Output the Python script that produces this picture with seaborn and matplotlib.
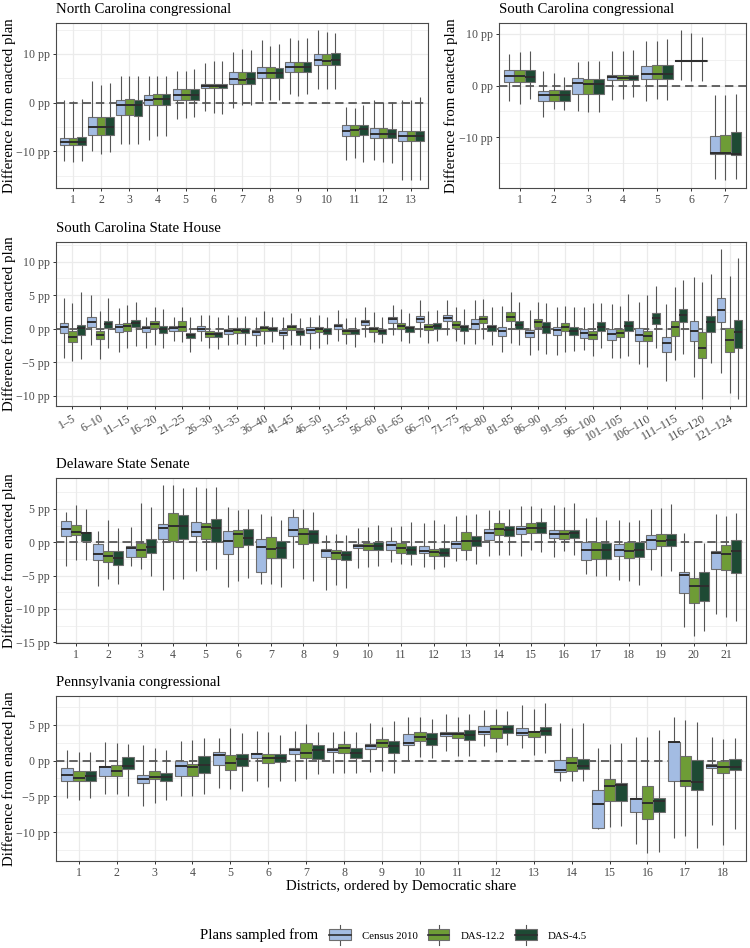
import numpy as np
import pandas as pd
import matplotlib
matplotlib.use("Agg")
import matplotlib.pyplot as plt
import seaborn as sns
from matplotlib.ticker import MultipleLocator, FuncFormatter
from matplotlib.legend_handler import HandlerBase
from matplotlib.patches import Rectangle
from matplotlib.lines import Line2D
import matplotlib.transforms as mtransforms

# ---------------- data: (whisker low, Q1, median, Q3, whisker high) ----------------
PLANS = ["Census 2010", "DAS-12.2", "DAS-4.5"]
COLORS = ["#A3BCE3", "#6E9C36", "#1E4A34"]

NC_DISTRICTS = [str(i) for i in range(1, 14)]
NC_CENSUS = [(-11.9, -8.8, -8.1, -7.3, 0.5), (-10.0, -6.6, -5.1, -2.95, 4.4), (-8.6, -2.6, -0.6, 0.6, 5.5),
             (-7.7, -0.5, 0.6, 1.6, 5.5), (-3.3, 0.6, 1.6, 2.8, 6.4), (-1.8, 3.0, 3.35, 3.9, 8.2),
             (-1.1, 3.9, 4.9, 6.2, 10.3), (0.3, 5.1, 6.1, 7.3, 12.8), (1.8, 6.2, 7.3, 8.4, 13.3),
             (2.7, 7.8, 8.8, 10.0, 14.8), (-11.8, -6.8, -5.75, -4.7, -0.9), (-11.8, -7.3, -6.4, -5.3, 0.6),
             (-16.0, -7.9, -6.8, -5.9, 0.6)]
NC_DAS12 = [(-12.1, -8.8, -8.1, -7.3, 0.4), (-10.5, -6.7, -5.1, -2.95, 3.7), (-8.5, -2.5, -0.5, 0.75, 5.5),
            (-6.9, -0.4, 0.75, 1.8, 5.4), (-3.2, 0.6, 1.6, 2.8, 6.4), (-2.1, 3.0, 3.35, 3.9, 8.5),
            (-0.6, 3.9, 4.7, 6.2, 10.9), (0.6, 5.1, 6.0, 7.3, 11.7), (1.3, 6.2, 7.3, 8.4, 12.8),
            (2.7, 7.8, 8.6, 10.0, 14.5), (-11.4, -6.8, -5.7, -4.7, -1.1), (-12.3, -7.3, -6.4, -5.3, 0.1),
            (-15.8, -7.9, -6.8, -5.9, 0.5)]
NC_DAS45 = [(-12.0, -8.8, -8.1, -7.1, 0.7), (-10.2, -6.7, -5.1, -2.95, 4.0), (-8.5, -2.8, -0.5, 0.6, 5.5),
            (-6.8, -0.4, 0.75, 1.8, 5.4), (-3.0, 0.6, 1.6, 2.8, 6.9), (-2.3, 3.0, 3.35, 3.9, 8.6),
            (-0.4, 3.8, 4.9, 6.2, 10.7), (0.6, 5.0, 6.1, 7.2, 12.1), (1.8, 6.2, 7.3, 8.4, 13.3),
            (2.8, 7.8, 8.8, 10.1, 14.3), (-12.1, -6.6, -5.5, -4.6, -0.6), (-12.4, -7.3, -6.4, -5.4, 0.1),
            (-15.8, -7.9, -6.8, -5.9, 1.2)]

SC_DISTRICTS = [str(i) for i in range(1, 8)]
SC_CENSUS = [(-3.0, 0.7, 1.9, 2.9, 6.0), (-6.1, -3.0, -1.9, -1.1, 2.8), (-4.9, -1.6, 0.4, 1.5, 4.5),
             (-2.7, 1.0, 1.7, 2.1, 6.6), (-3.0, 1.3, 2.3, 3.7, 8.5), (1.0, 4.7, 4.8, 4.9, 10.6),
             (-18.1, -13.1, -12.95, -9.7, -1.9)]
SC_DAS12 = [(-3.5, 0.7, 1.8, 2.9, 6.4), (-4.6, -3.0, -1.9, -0.9, 2.4), (-5.1, -1.7, 0.3, 1.3, 4.7),
            (-2.6, 1.0, 1.5, 2.1, 6.7), (-2.6, 1.3, 2.3, 3.9, 8.5), (0.8, 4.7, 4.8, 4.9, 10.1),
            (-18.3, -13.1, -12.95, -9.6, -1.9)]
SC_DAS45 = [(-2.6, 0.7, 1.7, 2.9, 6.7), (-4.8, -3.0, -1.9, -0.9, 1.7), (-5.1, -1.6, 0.2, 1.3, 4.7),
            (-2.2, 1.0, 1.5, 2.1, 6.9), (-2.7, 1.3, 2.3, 3.9, 9.0), (0.8, 4.7, 4.8, 4.9, 9.3),
            (-18.1, -13.3, -13.1, -9.0, -1.7)]

SCSH_GROUPS = ["1–5", "6–10", "11–15", "16–20", "21–25", "26–30", "31–35", "36–40", "41–45",
               "46–50", "51–55", "56–60", "61–65", "66–70", "71–75", "76–80", "81–85", "86–90",
               "91–95", "96–100", "101–105", "106–110", "111–115", "116–120", "121–124"]
SCSH_CENSUS = [(-4.4, -0.64, 0.2, 0.8, 4.6), (-2.5, 0.2, 0.95, 1.8, 5.0), (-3.4, -0.5, 0.2, 0.7, 3.1),
               (-2.8, -0.5, 0.05, 0.35, 1.7), (-1.8, -0.3, 0.1, 0.4, 1.8), (-1.9, -0.4, 0.0, 0.35, 2.0),
               (-2.5, -0.8, -0.4, -0.05, 2.0), (-2.6, -0.9, -0.55, -0.2, 1.7), (-3.0, -0.95, -0.6, -0.2, 1.8),
               (-3.0, -0.65, -0.2, 0.2, 1.8), (-1.8, 0.0, 0.35, 0.7, 2.8), (-1.3, 0.5, 1.0, 1.3, 3.3),
               (-0.95, 0.9, 1.45, 1.8, 3.5), (-1.2, 0.95, 1.45, 1.9, 4.2), (-0.95, 1.1, 1.6, 2.0, 4.3),
               (-2.3, -0.05, 0.7, 1.45, 4.3), (-3.5, -1.05, -0.4, 0.2, 3.4), (-3.9, -1.2, -0.65, -0.15, 2.8),
               (-3.9, -0.9, -0.2, 0.2, 3.2), (-3.2, -1.4, -0.65, -0.05, 3.2), (-4.4, -1.7, -0.8, -0.05, 3.7),
               (-5.25, -1.8, -0.95, 0.05, 4.0), (-7.8, -3.4, -2.2, -1.2, 3.7), (-7.2, -1.9, -0.4, 1.2, 7.7),
               (-6.6, 0.95, 2.8, 4.55, 11.8)]
SCSH_DAS12 = [(-4.75, -2.0, -1.3, -0.4, 3.8), (-4.5, -1.6, -0.9, -0.3, 2.6), (-2.9, -0.3, 0.4, 0.9, 3.5),
              (-2.4, 0.1, 0.7, 1.2, 3.3), (-2.0, -0.3, 0.2, 1.1, 3.3), (-2.8, -1.2, -0.8, -0.4, 2.0),
              (-2.3, -0.65, -0.2, 0.1, 1.8), (-2.3, -0.3, 0.1, 0.45, 2.7), (-2.4, -0.2, 0.2, 0.55, 2.4),
              (-2.8, -0.55, -0.1, 0.3, 2.1), (-2.3, -0.8, -0.4, -0.05, 1.6), (-2.0, -0.55, -0.1, 0.3, 2.5),
              (-1.9, -0.05, 0.45, 0.85, 3.0), (-2.2, -0.2, 0.2, 0.7, 2.6), (-1.9, 0.05, 0.6, 1.1, 3.3),
              (-1.5, 0.8, 1.45, 1.9, 4.4), (-2.2, 1.1, 1.8, 2.5, 5.4), (-3.2, 0.3, 0.95, 1.45, 4.0),
              (-3.4, -0.4, 0.2, 0.85, 3.4), (-4.1, -1.55, -0.9, -0.4, 3.9), (-4.4, -1.3, -0.7, -0.05, 3.4),
              (-5.7, -1.8, -1.05, -0.3, 5.0), (-4.65, -1.05, 0.2, 1.2, 6.2), (-10.4, -4.3, -2.8, -0.55, 7.0),
              (-9.5, -3.4, -1.7, 0.1, 7.8)]
SCSH_DAS45 = [(-4.5, -1.0, 0.1, 0.6, 5.4), (-2.8, 0.1, 0.7, 1.2, 4.6), (-2.6, 0.2, 0.8, 1.3, 4.0),
              (-2.8, -0.6, 0.0, 0.45, 2.9), (-3.4, -1.4, -1.0, -0.65, 1.7), (-3.0, -1.2, -0.8, -0.45, 1.7),
              (-2.5, -0.7, -0.3, 0.05, 1.9), (-2.0, -0.4, 0.0, 0.3, 1.8), (-2.5, -0.95, -0.55, -0.15, 1.6),
              (-2.3, -0.75, -0.3, 0.05, 1.8), (-2.7, -0.8, -0.4, -0.05, 1.7), (-2.2, -0.8, -0.4, -0.05, 1.8),
              (-2.1, -0.5, 0.1, 0.45, 2.3), (-1.9, 0.0, 0.45, 0.8, 2.8), (-2.3, -0.4, 0.2, 0.6, 2.9),
              (-2.4, -0.4, 0.2, 0.6, 3.2), (-2.5, -0.05, 0.55, 1.1, 4.0), (-3.8, -0.6, 0.2, 1.05, 3.8),
              (-3.3, -0.9, -0.3, 0.2, 3.3), (-2.9, -0.3, 0.3, 1.05, 3.8), (-4.1, -0.4, 0.35, 1.1, 5.1),
              (-2.8, 0.7, 1.55, 2.3, 6.4), (-3.8, 0.95, 2.1, 2.9, 7.3), (-5.1, -0.45, 0.95, 1.9, 8.1),
              (-10.4, -2.9, -0.55, 1.3, 10.6)]

DE_DISTRICTS = [str(i) for i in range(1, 22)]
DE_CENSUS = [(-3.6, 1.0, 2.0, 3.15, 4.5), (-6.5, -2.7, -1.75, -0.25, 1.65), (-3.6, -2.25, -0.85, -0.6, 2.3),
             (-7.2, 0.5, 2.15, 2.8, 8.5), (-4.25, 0.9, 1.55, 3.05, 8.3), (-6.75, -1.7, 0.25, 1.65, 5.3),
             (-6.25, -4.4, -0.75, 0.5, 4.3), (-3.85, 1.0, 1.9, 3.8, 5.0), (-7.2, -2.2, -1.35, -1.0, 1.15),
             (-3.85, -0.85, -0.5, -0.2, 2.15), (-3.0, -1.1, -0.35, 0.15, 2.3), (-3.7, -1.6, -1.35, -0.6, 2.9),
             (-2.85, -0.85, -0.25, 0.15, 4.0), (-2.1, 0.4, 1.4, 2.0, 4.75), (-2.0, 1.25, 2.05, 2.4, 5.4),
             (-2.25, 0.65, 1.3, 1.8, 5.5), (-4.75, -2.6, -1.2, 0.0, 3.65), (-5.6, -2.1, -1.1, -0.25, 3.3),
             (-4.1, -0.95, 0.4, 1.05, 4.9), (-12.7, -7.6, -4.85, -4.45, 1.4), (-10.75, -4.0, -1.6, -1.25, 4.25)]
DE_DAS12 = [(-2.7, 1.15, 1.5, 2.65, 5.5), (-5.5, -3.0, -2.1, -1.35, 3.3), (-4.0, -2.2, -1.1, -0.1, 5.8),
            (-5.5, 0.15, 2.5, 4.4, 8.5), (-4.1, 0.5, 2.25, 2.9, 8.1), (-5.85, -0.7, 1.25, 1.8, 4.75),
            (-6.25, -2.4, -1.0, 0.8, 3.9), (-5.45, -0.2, 1.25, 2.15, 4.9), (-6.35, -2.5, -1.6, -1.1, 1.25),
            (-3.7, -1.2, -0.6, -0.1, 2.3), (-3.2, -1.6, -0.85, -0.1, 2.5), (-4.0, -2.1, -1.5, -1.0, 3.4),
            (-2.7, -1.1, 0.15, 1.55, 4.15), (-1.85, 1.15, 2.0, 2.9, 4.75), (-1.1, 1.4, 2.15, 2.9, 5.4),
            (-1.35, 0.5, 1.3, 1.9, 5.3), (-5.0, -2.45, -1.1, 0.05, 3.8), (-5.85, -2.35, -1.25, 0.0, 3.0),
            (-5.0, -0.5, 0.15, 1.3, 5.15), (-14.0, -9.1, -6.6, -5.35, 0.0), (-11.25, -4.2, -1.75, -0.35, 4.0)]
DE_DAS45 = [(-2.6, 0.25, 1.4, 1.55, 4.9), (-6.2, -3.35, -2.35, -1.35, 2.15), (-5.0, -1.6, -0.7, 0.55, 5.3),
            (-5.5, 0.5, 2.5, 4.15, 8.1), (-4.0, 0.0, 2.15, 3.5, 8.2), (-5.35, -0.35, 0.65, 2.0, 5.0),
            (-6.75, -2.35, -0.85, 0.15, 3.4), (-5.85, -0.1, 1.3, 1.8, 4.5), (-6.85, -2.6, -1.85, -1.25, 1.15),
            (-3.5, -1.1, -0.5, 0.0, 2.65), (-3.35, -1.7, -1.1, -0.5, 3.0), (-3.75, -2.1, -1.6, -0.85, 2.75),
            (-3.2, -0.6, 0.15, 1.0, 4.3), (-1.85, 1.0, 1.8, 2.4, 4.9), (-1.5, 1.4, 2.15, 3.0, 5.15),
            (-1.85, 0.65, 1.4, 1.9, 5.9), (-5.1, -2.45, -1.1, -0.1, 3.3), (-6.35, -2.25, -1.2, 0.05, 3.4),
            (-4.25, -0.6, 0.4, 1.3, 5.65), (-13.35, -8.85, -6.6, -4.5, -0.1), (-11.75, -4.6, -1.25, 0.4, 4.4)]

PA_DISTRICTS = [str(i) for i in range(1, 19)]
PA_CENSUS = [(-5.15, -2.9, -2.0, -1.05, 1.5), (-4.7, -2.2, -0.9, -0.75, 2.65), (-6.3, -3.15, -2.6, -2.0, 2.2),
             (-4.9, -2.1, -0.75, 0.0, 2.75), (-3.85, -0.6, 0.8, 1.15, 3.1), (-2.8, 0.3, 0.9, 1.1, 4.1),
             (-2.8, 0.9, 1.5, 1.7, 4.1), (-1.75, 1.15, 1.5, 1.8, 4.0), (-1.65, 1.6, 2.0, 2.3, 5.2),
             (0.1, 2.2, 2.5, 3.65, 6.0), (1.4, 3.4, 3.7, 4.0, 6.45), (2.05, 3.7, 3.95, 4.8, 7.05),
             (1.7, 3.55, 3.8, 4.5, 7.75), (-2.8, -1.55, -1.3, 0.1, 5.2), (-9.55, -9.4, -6.05, -4.15, 1.7),
             (-11.6, -7.2, -5.35, -5.25, 3.35), (-10.8, -2.8, 2.55, 2.65, 6.1), (-8.95, -1.05, -0.75, -0.5, 3.35)]
PA_DAS12 = [(-5.55, -2.8, -2.45, -1.5, 1.15), (-4.6, -2.1, -1.4, -0.6, 2.4), (-5.85, -2.6, -2.3, -1.5, 1.7),
            (-5.0, -2.15, -0.95, -0.45, 2.85), (-4.0, -1.3, -0.3, 0.8, 4.6), (-3.7, -0.3, 0.3, 0.95, 3.95),
            (-2.55, 0.3, 1.1, 2.4, 5.05), (-1.75, 1.0, 1.7, 2.3, 4.1), (-1.4, 1.85, 2.5, 2.95, 4.7),
            (0.55, 2.75, 3.35, 4.0, 6.0), (0.7, 3.1, 3.7, 4.0, 6.1), (1.25, 3.1, 4.4, 4.95, 7.15),
            (0.8, 3.35, 3.95, 4.15, 7.25), (-2.85, -1.45, -0.35, 0.45, 4.6), (-9.3, -5.7, -3.6, -2.55, 2.3),
            (-12.95, -8.15, -5.9, -3.5, 3.35), (-10.55, -3.6, -2.8, 0.65, 5.65), (-11.7, -1.75, -0.95, 0.0, 2.95)]
PA_DAS45 = [(-5.15, -2.8, -2.1, -1.45, 1.25), (-4.9, -1.2, -0.7, 0.45, 2.3), (-5.55, -2.9, -2.3, -1.75, 1.5),
            (-4.7, -1.75, -0.6, 0.7, 3.1), (-4.2, -0.7, 0.25, 0.9, 3.9), (-2.9, -0.2, 0.4, 0.9, 3.55),
            (-1.85, 0.25, 1.5, 2.2, 4.0), (-1.75, 0.3, 1.1, 1.7, 4.0), (-1.75, 1.0, 2.0, 2.7, 5.5),
            (0.3, 2.2, 2.95, 3.9, 5.8), (0.7, 2.85, 3.55, 4.25, 6.45), (2.1, 3.8, 4.4, 4.95, 6.95),
            (1.0, 3.55, 4.1, 4.65, 7.95), (-2.8, -1.15, -0.75, 0.2, 5.2), (-9.15, -5.6, -3.4, -3.15, 2.4),
            (-12.7, -7.2, -5.7, -5.25, 4.25), (-12.2, -4.15, -3.05, 0.1, 5.4), (-9.6, -1.3, -0.85, 0.2, 3.1)]

TITLES = ["North Carolina congressional", "South Carolina congressional", "South Carolina State House",
          "Delaware State Senate", "Pennsylvania congressional"]
Y_LABEL = "Difference from enacted plan"
X_LABEL = "Districts, ordered by Democratic share"
LEGEND_TITLE = "Plans sampled from"

# ---------------- style ----------------
plt.rcParams["font.family"] = ["Liberation Serif", "DejaVu Serif"]
plt.rcParams["axes.unicode_minus"] = True

W, H = 750, 948
TICK_COLOR = "#4D4D4D"
GRID_COLOR = "#EBEBEB"
BOX_EDGE = "#6E6E6E"
WHISK = "#555555"
MEDIAN = "#2E2E2E"

fig = plt.figure(figsize=(W / 100, H / 100), dpi=100)


def axes_px(left, top, right, bottom):
    return fig.add_axes([left / W, 1 - bottom / H, (right - left) / W, (bottom - top) / H])


def long_frame(districts, series):
    rows = []
    for plan, stats in zip(PLANS, series):
        for d, st in zip(districts, stats):
            for v in st:
                rows.append((d, plan, v))
    return pd.DataFrame(rows, columns=["district", "plan", "value"])


def fmt_pp(v, pos):
    s = f"{int(round(v))} pp"
    return s.replace("-", "\u2212")


def draw(ax, districts, series, title, major, label_x_px, rotate=False):
    df = long_frame(districts, series)
    ax.axhline(0, color="#3C3C3C", lw=1.1, ls=(0, (5.5, 3.2)), zorder=1.5)
    sns.boxplot(data=df, x="district", y="value", hue="plan", order=districts, hue_order=PLANS,
                palette=COLORS, saturation=1, width=0.92, gap=0, dodge=True, whis=(0, 100),
                showfliers=False, showcaps=False, linecolor=BOX_EDGE, linewidth=0.8,
                medianprops=dict(color=MEDIAN, linewidth=1.4),
                whiskerprops=dict(color=WHISK, linewidth=0.8),
                legend=False, ax=ax)
    vals = df["value"].to_numpy()
    lo, hi = vals.min(), vals.max()
    pad = 0.05 * (hi - lo)
    ax.set_ylim(lo - pad, hi + pad)
    n = len(districts)
    ax.set_xlim(-0.6, n - 0.4)
    ax.yaxis.set_major_locator(MultipleLocator(major))
    ax.yaxis.set_minor_locator(MultipleLocator(major / 2))
    ax.yaxis.set_major_formatter(FuncFormatter(fmt_pp))
    ax.set_axisbelow(True)
    ax.grid(True, which="major", axis="both", color=GRID_COLOR, lw=0.9)
    ax.grid(True, which="minor", axis="y", color=GRID_COLOR, lw=0.5)
    ax.tick_params(axis="both", which="major", length=2.5, width=0.7, color="#333333",
                   labelsize=8.6, labelcolor=TICK_COLOR, pad=2)
    ax.tick_params(axis="y", which="minor", length=0)
    for sp in ax.spines.values():
        sp.set_color("#4A4A4A")
        sp.set_linewidth(0.8)
    ax.set_xlabel("")
    ax.set_ylabel(Y_LABEL, fontsize=10.7)
    tr = mtransforms.blended_transform_factory(fig.transFigure, ax.transAxes)
    ax.yaxis.set_label_coords(label_x_px / W, 0.5, transform=tr)
    ax.set_title(title, loc="left", fontsize=10.7, pad=7.5)
    if rotate:
        plt.setp(ax.get_xticklabels(), rotation=30, ha="right", rotation_mode="anchor")


ax_nc = axes_px(56, 23, 428, 188)
draw(ax_nc, NC_DISTRICTS, [NC_CENSUS, NC_DAS12, NC_DAS45], TITLES[0], 10, 16)

ax_sc = axes_px(499, 23, 746, 188)
draw(ax_sc, SC_DISTRICTS, [SC_CENSUS, SC_DAS12, SC_DAS45], TITLES[1], 10, 458)

ax_sh = axes_px(56, 242, 746, 406)
draw(ax_sh, SCSH_GROUPS, [SCSH_CENSUS, SCSH_DAS12, SCSH_DAS45], TITLES[2], 5, 16, rotate=True)

ax_de = axes_px(56, 478, 746, 643)
draw(ax_de, DE_DISTRICTS, [DE_CENSUS, DE_DAS12, DE_DAS45], TITLES[3], 5, 16)

ax_pa = axes_px(56, 696, 746, 861)
draw(ax_pa, PA_DISTRICTS, [PA_CENSUS, PA_DAS12, PA_DAS45], TITLES[4], 5, 16)

fig.text(401 / W, 1 - 880 / H, X_LABEL, ha="center", va="top", fontsize=10.7)


# ---------------- legend ----------------
class BoxKey(HandlerBase):
    def create_artists(self, legend, orig_handle, xdescent, ydescent, width, height, fontsize, trans):
        x0, y0 = -xdescent, -ydescent
        cx = x0 + width / 2
        whisk = Line2D([cx, cx], [y0 - 0.45 * height, y0 + 1.45 * height], color=WHISK, lw=0.8, transform=trans)
        box = Rectangle((x0, y0), width, height, facecolor=orig_handle.get_facecolor(),
                        edgecolor=BOX_EDGE, lw=0.8, transform=trans)
        med = Line2D([x0, x0 + width], [y0 + height / 2] * 2, color=MEDIAN, lw=1.2, transform=trans)
        return [whisk, box, med]


handles = [Rectangle((0, 0), 1, 1, facecolor=c) for c in COLORS]
fig.text(200 / W, 1 - 935 / H, LEGEND_TITLE, ha="left", va="center", fontsize=10.7)
fig.legend(handles, PLANS, loc="center left", bbox_to_anchor=(329 / W, 1 - 935 / H), ncol=3,
           frameon=False, fontsize=7.8, handlelength=2.0, handleheight=1.15, handletextpad=1.0,
           columnspacing=0.95, borderpad=0, borderaxespad=0, handler_map={Rectangle: BoxKey()})

fig.savefig("out.png", dpi=100)
